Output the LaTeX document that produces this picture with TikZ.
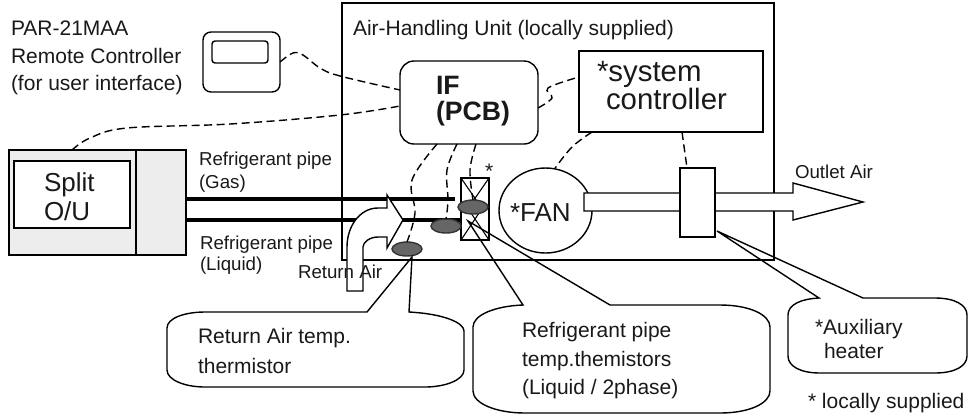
\documentclass[tikz,border=0pt]{standalone}
\usepackage{fontspec}
\setmainfont{Liberation Sans}
\usetikzlibrary{calc,shapes.geometric}
\newcommand{\fs}[1]{\fontsize{#1}{#1}\selectfont}
\tikzset{
  x=1pt,y=-1pt,
  every node/.style={inner sep=0pt,outer sep=0pt},
  line/.style={draw=black,line width=1.4pt,line join=miter},
  box/.style={draw=black,line width=1.4pt,fill=white},
  lab/.style={anchor=base west,text=black!90},
  big/.style={lab,font=\fs{21}},
  mid/.style={lab,font=\fs{18.7}},
  sig/.style={draw=black,line width=1.4pt,dash pattern=on 8pt off 4.5pt,smooth,tension=0.6},
  pipe/.style={draw=black,line width=3.6pt},
  sensor/.style={ellipse,draw=black!80,line width=1.4pt,fill=black!60,minimum width=30pt,minimum height=14pt},
  callout/.style={draw=black,line width=1.4pt,line join=miter},
}
\begin{document}
\begin{tikzpicture}
\useasboundingbox (0,0) rectangle (968,416);
% Air-handling unit
\node[box,fill=none,minimum width=432pt,minimum height=257pt,anchor=north west] (ahu) at (342,3) {};
\node[big] (ahulab) at (353,35) {Air-Handling Unit (locally supplied)};
% Remote controller
\node[big] (rc1) at (11,35) {PAR-21MAA};
\node[big] (rc2) at (11,63) {Remote Controller};
\node[big] (rc3) at (11,90) {(for user interface)};
\node[box,rounded corners=8pt,minimum width=77pt,minimum height=60pt,anchor=north west] (rc) at (203,32) {};
\node[box,rounded corners=3pt,minimum width=56pt,minimum height=22pt,anchor=north west] (rcs) at (212,41) {};
% Outdoor unit
\node[box,fill=black!7,minimum width=177pt,minimum height=105pt,anchor=north west] (ou) at (9,150) {};
\node[draw=black,line width=1.4pt,minimum width=0pt,minimum height=105pt,anchor=north] (oudiv) at (136,150) {};
\node[box,minimum width=116pt,minimum height=67pt,anchor=north west] (ouin) at (14,161) {};
\node[lab,font=\fs{26}] (ou1) at (44,191) {Split};
\node[lab,font=\fs{26}] (ou2) at (44,220) {O/U};
% Pipes
\coordinate (gasend) at (455,199);
\coordinate (liqend) at (460,220);
\draw[pipe] (ou.east|-gasend) -- (gasend);
\draw[pipe] (ou.east|-liqend) -- (liqend);
\node[mid] (pg1) at (199,165) {Refrigerant pipe};
\node[mid] (pg2) at (199,188) {(Gas)};
\node[mid] (pl1) at (200,249) {Refrigerant pipe};
\node[mid] (pl2) at (200,270) {(Liquid)};
% Return air arrow
\draw[box] (403,220) -- (387,195) -- (387,208) -- (378,208)
  .. controls (360,208) and (347,226) .. (347,247) -- (347,291) -- (363,291) -- (363,247)
  .. controls (363,242) and (370,237) .. (378,237) -- (387,237) -- (387,248) -- cycle;
\node[mid] (ra) at (298,278) {Return Air};
% Evaporator
\node[box,minimum width=28pt,minimum height=62pt,anchor=north west] (coil) at (461,178) {};
\draw[line,line width=1.1pt] (coil.north west) -- (481,207) (coil.north east) -- (469,207)
  (coil.south west) -- (479,213) (coil.south east) -- (471,213);
\node[big] (star) at (485,178) {*};
% Controllers
\node[box,rounded corners=14pt,minimum width=138pt,minimum height=83pt,anchor=north west] (pcb) at (400,61) {};
\node[lab,font=\bfseries\fs{26.6}] (pcb1) at (436,94) {IF};
\node[lab,font=\bfseries\fs{26.6}] (pcb2) at (436,120) {(PCB)};
\node[box,minimum width=184pt,minimum height=81pt,anchor=north west] (sys) at (579,51) {};
\node[lab,font=\fs{29.4}] (sys1) at (597,81) {*system};
\node[lab,font=\fs{29.4}] (sys2) at (606,109) {controller};
% Fan
\node[box,ellipse,minimum width=93pt,minimum height=85pt] (fan) at (545.5,210.5) {};
\node[lab,font=\fs{26}] (fanl) at (510,221) {*FAN};
% Outlet arrow
\draw[box] (584,193) -- (793,193) -- (793,183) -- (863,202) -- (793,220) -- (793,211) -- (584,211) -- cycle;
\node[mid] (oa) at (795,178) {Outlet Air};
\node[box,minimum width=35pt,minimum height=69pt,anchor=north west] (heat) at (680,168) {};
% Sensors
\node[sensor] (s1) at (473,207) {};
\node[sensor] (s2) at (446,226) {};
\node[sensor] (s3) at (407,249) {};
% Signal wires
\draw[sig] plot coordinates {(rc.east) (293,53) (303,55) (320,68) (340,76) ([yshift=12.5pt]pcb.west)};
\draw[sig] plot coordinates {([xshift=-25.5pt]ou.north) (90,138) (127,128) (230,124) (340,115) ([yshift=-3.5pt]pcb.west)};
\draw[sig] plot coordinates {([yshift=-5.5pt]pcb.east) (552,98) (548,88) ([yshift=14.5pt]sys.west)};
\draw[sig] plot coordinates {([xshift=-79pt]sys.south) (572,147) ([xshift=9pt,yshift=-1pt]fan.north)};
\draw[sig] plot coordinates {([xshift=11pt]sys.south) ([xshift=-10.5pt]heat.north)};
\draw[sig] plot coordinates {([xshift=-32pt]pcb.south) (412,180) (415,213) (s3.north)};
\draw[sig] plot coordinates {([xshift=-12pt]pcb.south) (447,170) (448,200) (s2.north)};
\draw[sig] plot coordinates {([xshift=7pt]pcb.south) (470,170) (s1.north)};
% Callouts
\coordinate (t1) at (412,257);
\draw[callout] (367,312) -- (t1) -- (409,312) .. controls (445,314) and (464,323) .. (464,331) -- (464,370)
  .. controls (464,380) and (445,387) .. (425,387) -- (205,387) .. controls (185,387) and (167,380) .. (167,370)
  -- (167,328) .. controls (167,318) and (185,312) .. (205,312) -- cycle;
\node[big] (c1a) at (198,343) {Return Air temp.};
\node[big] (c1b) at (198,373) {thermistor};
\coordinate (t2) at (468,221);
\draw[callout] (610,305) -- (t2) -- (523,305) .. controls (495,306) and (473,315) .. (473,327) -- (473,391)
  .. controls (473,403) and (495,413) .. (525,413) -- (720,413) .. controls (750,413) and (770,403) .. (770,391)
  -- (770,327) .. controls (770,315) and (750,305) .. (720,305) -- cycle;
\node[big] (c2a) at (522,337) {Refrigerant pipe};
\node[big] (c2b) at (522,366) {temp.themistors};
\node[big] (c2c) at (522,394) {(Liquid / 2phase)};
\coordinate (t3) at (717,231);
\draw[callout] (863,298) -- (t3) -- (819,298) .. controls (800,299) and (788,305) .. (788,315) -- (788,356)
  .. controls (788,366) and (800,373) .. (820,373) -- (935,373) .. controls (955,373) and (967,366) .. (967,356)
  -- (967,315) .. controls (967,305) and (955,298) .. (935,298) -- cycle;
\node[big] (c3a) at (815,334) {*Auxiliary};
\node[big] (c3b) at (824,358) {heater};
\node[big] (note) at (808,408) {* locally supplied};
\end{tikzpicture}
\end{document}
